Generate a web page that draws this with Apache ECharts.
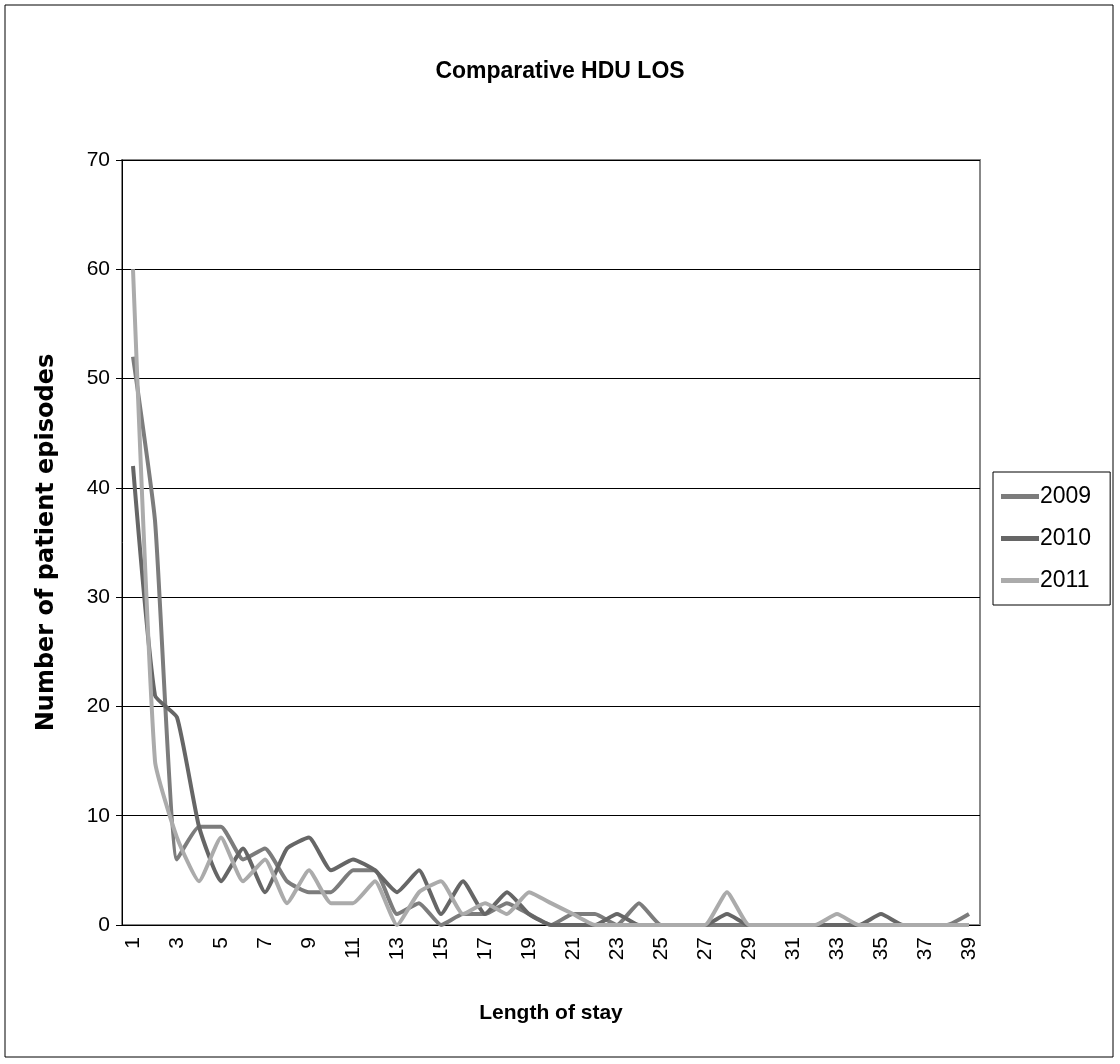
<!DOCTYPE html>
<html>
<head>
<meta charset="utf-8">
<title>Comparative HDU LOS</title>
<script src="https://cdn.jsdelivr.net/npm/echarts@6/dist/echarts.min.js"></script>
<style>
  html, body { margin: 0; padding: 0; background: #fff; }
  #main { width: 1120px; height: 1064px; }
</style>
</head>
<body>
<div id="main"></div>
<script>
// length of stay (days)
var stayDays = [];
for (var d = 1; d <= 39; d++) { stayDays.push(String(d)); }

// episodes per year
var y2009 = [52,37,6,9,9,6,7,4,3,3,5,5,1,2,0,1,1,2,1,0,1,1,0,2,0,0,0,0,0,0,0,0,0,0,0,0,0,0,1];
var y2010 = [42,21,19,9,4,7,3,7,8,5,6,5,3,5,1,4,1,3,1,0,0,0,1,0,0,0,0,1,0,0,0,0,0,0,1,0,0,0,0];
var y2011 = [60,15,8,4,8,4,6,2,5,2,2,4,0,3,4,1,2,1,3,2,1,0,0,0,0,0,0,3,0,0,0,0,1,0,0,0,0,0,0];

var seriesNames = ['2009', '2010', '2011'];
var seriesColors = ['#7c7c7c', '#666666', '#ababab'];

var narrow = "'Liberation Sans Narrow', 'Liberation Sans', Arial, sans-serif";

var myChart = echarts.init(document.getElementById('main'));

function lineSeries(name, data, color) {
    return {
        name: name,
        type: 'line',
        data: data,
        smooth: 0.15,
        symbol: 'none',
        lineStyle: { color: color, width: 4 },
        itemStyle: { color: color }
    };
}

var option = {
    animation: false,
    backgroundColor: '#fff',
    graphic: [{
        type: 'rect',
        shape: { x: 5, y: 5, width: 1108, height: 1052 },
        style: { fill: null, stroke: '#000', lineWidth: 1 }
    }],
    title: {
        text: 'Comparative HDU LOS',
        left: 'center',
        top: 55,
        textStyle: { fontFamily: narrow, fontSize: 23, fontWeight: 'bold', color: '#000' }
    },
    legend: {
        orient: 'vertical',
        left: 993,
        top: 472,
        padding: [13, 19, 13, 8],
        itemGap: 19,
        itemWidth: 38,
        itemHeight: 5,
        icon: 'rect',
        borderColor: '#000',
        borderWidth: 1,
        textStyle: { fontFamily: narrow, fontSize: 23, color: '#000', padding: [0, 0, 0, -4] },
        data: seriesNames
    },
    grid: {
        left: 122,
        top: 160,
        width: 858,
        height: 765,
        show: true,
        borderColor: '#888',
        borderWidth: 2,
        containLabel: false
    },
    xAxis: {
        type: 'category',
        data: stayDays,
        boundaryGap: true,
        name: 'Length of stay',
        nameLocation: 'middle',
        nameGap: 78,
        nameTextStyle: { fontFamily: narrow, fontSize: 21, fontWeight: 'bold', color: '#000' },
        axisLine: { lineStyle: { color: '#000', width: 1 } },
        axisTick: { interval: 0, length: 9, lineStyle: { color: '#000' } },
        axisLabel: {
            interval: 1,
            rotate: 90,
            margin: 12,
            fontFamily: narrow,
            fontSize: 21,
            color: '#000'
        }
    },
    yAxis: {
        type: 'value',
        min: 0,
        max: 70,
        interval: 10,
        name: 'Number of patient episodes',
        nameLocation: 'middle',
        nameGap: 63,
        nameTextStyle: { fontFamily: "'DejaVu Sans', 'Liberation Sans', sans-serif", fontSize: 24, fontWeight: 'bold', color: '#000' },
        axisLine: { show: true, lineStyle: { color: '#000', width: 1 } },
        axisTick: { show: true, length: 6, lineStyle: { color: '#000' } },
        axisLabel: { fontFamily: narrow, fontSize: 21, color: '#000', margin: 12 },
        splitLine: { lineStyle: { color: '#000', width: 1 } }
    },
    series: [
        lineSeries(seriesNames[0], y2009, seriesColors[0]),
        lineSeries(seriesNames[1], y2010, seriesColors[1]),
        lineSeries(seriesNames[2], y2011, seriesColors[2])
    ]
};

myChart.setOption(option, true);
</script>
</body>
</html>
